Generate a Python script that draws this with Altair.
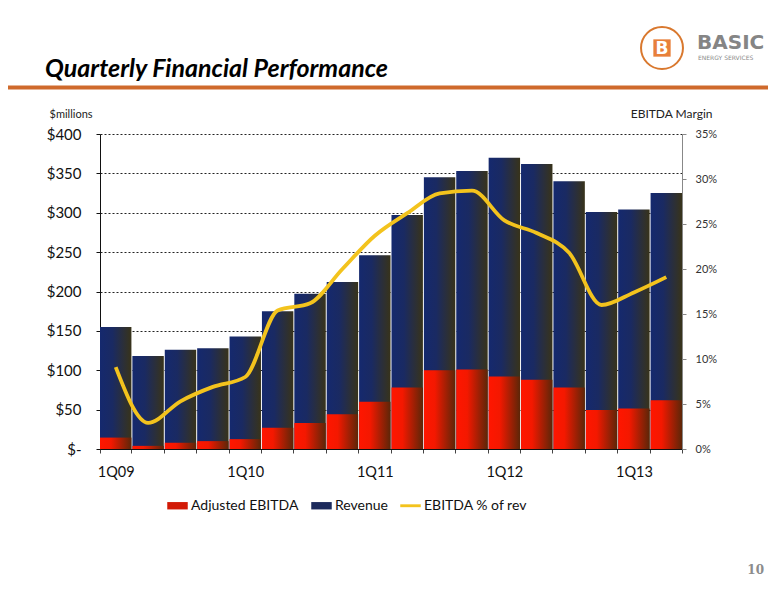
import altair as alt
import pandas as pd

quarters = ["1Q09", "2Q09", "3Q09", "4Q09", "1Q10", "2Q10", "3Q10", "4Q10",
            "1Q11", "2Q11", "3Q11", "4Q11", "1Q12", "2Q12", "3Q12", "4Q12",
            "1Q13", "2Q13"]
revenue = [155, 118, 126, 128, 143, 175, 197, 212, 246, 297, 345, 353, 370,
           362, 340, 301, 304, 325]
ebitda = [14.5, 4, 8, 10, 12.5, 27, 33, 44, 60, 78, 100, 101, 92, 88, 78,
          49.5, 51.5, 62]
margin_pct = [9.1, 2.9, 5.3, 6.9, 8.0, 15.4, 16.2, 20.0, 23.7, 26.2, 28.4,
              28.7, 25.4, 24.0, 21.8, 16.0, 17.4, 19.1]
series_names = ["Adjusted EBITDA", "Revenue", "EBITDA % of rev"]
series_colors = ["#d21a06", "#1c2a5c", "#f3c31d"]
left_ticks = [0, 50, 100, 150, 200, 250, 300, 350, 400]
right_ticks = [0, 0.05, 0.10, 0.15, 0.20, 0.25, 0.30, 0.35]

df = pd.DataFrame({
    "q": quarters,
    "revenue": revenue,
    "ebitda": ebitda,
    "margin": [m / 100 for m in margin_pct],
})
legend_df = pd.DataFrame({"series": series_names})

FONT = "Lato"
W, H = 582, 315

rev_grad = alt.Gradient(
    gradient="linear", x1=0, x2=1, y1=0, y2=0,
    stops=[alt.GradientStop(color="#15296e", offset=0),
           alt.GradientStop(color="#1a2a62", offset=0.4),
           alt.GradientStop(color="#38331a", offset=1)])
ebitda_grad = alt.Gradient(
    gradient="linear", x1=0, x2=1, y1=0, y2=0,
    stops=[alt.GradientStop(color="#ff1600", offset=0),
           alt.GradientStop(color="#f41800", offset=0.35),
           alt.GradientStop(color="#5c2608", offset=1)])

x_enc = alt.X(
    "q:N", sort=None, title=None,
    scale=alt.Scale(paddingInner=0.03, paddingOuter=0),
    axis=alt.Axis(
        tickBand="extent", labelAngle=0, labelFont=FONT, labelFontSize=14.5,
        labelColor="#111", labelPadding=12, tickSize=4, tickColor="#444",
        domainColor="#111", grid=False, labelOverlap=False,
        labelExpr="indexof(datum.label, '1Q') == 0 ? datum.label : ''"))

left_scale = alt.Scale(domain=[0, 400], nice=False, zero=True)
left_axis = alt.Axis(
    values=left_ticks, tickCount=20, labelOverlap=False,
    labelFont=FONT, labelFontSize=15, labelColor="#111",
    labelPadding=15, tickSize=4, tickColor="#111", domainColor="#111",
    gridColor="#222", gridDash=[2, 2], gridWidth=1,
    labelExpr="datum.value == 0 ? '$-\u2007' : '$' + datum.value",
    titleAngle=0, titleAlign="left", titleBaseline="middle",
    titleX=-51, titleY=-20, titleFont=FONT, titleFontSize=11,
    titleFontWeight="normal", titleColor="#222")

base = alt.Chart(df)

rev_bars = base.mark_bar(fill=rev_grad).encode(
    x=x_enc,
    y=alt.Y("revenue:Q", title="$millions", scale=left_scale, axis=left_axis))
ebitda_bars = base.mark_bar(fill=ebitda_grad).encode(
    x=x_enc,
    y=alt.Y("ebitda:Q", title="$millions", scale=left_scale, axis=left_axis))

legend_layer = alt.Chart(legend_df).mark_point(filled=True, opacity=1).encode(
    x=alt.value(-5000), y=alt.value(-5000),
    color=alt.Color("series:N", sort=series_names, title=None,
                    scale=alt.Scale(domain=series_names, range=series_colors),
                    legend=alt.Legend(
                        orient="none", legendX=67, legendY=361,
                        direction="horizontal", symbolOpacity=1,
                        symbolSize=420, labelFont=FONT, labelFontSize=14,
                        labelColor="#111", columnPadding=12, labelOffset=3,
                        symbolStrokeWidth=0)),
    shape=alt.Shape("series:N", sort=series_names, title=None,
                    scale=alt.Scale(domain=series_names,
                                    range=["M-1,-0.36H1V0.36H-1Z",
                                           "M-1,-0.36H1V0.36H-1Z",
                                           "M-1,-0.14H1V0.14H-1Z"])))

one = alt.Data(values=[{}])
title_txt = alt.Chart(one).mark_text(
    text="Quarterly Financial Performance", font=FONT, fontSize=25,
    fontWeight="bold", fontStyle="italic", color="#000", align="left",
    baseline="alphabetic").encode(x=alt.value(-55), y=alt.value(-57))
orange_rule = alt.Chart(one).mark_rule(color="#cf6a2c", strokeWidth=4).encode(
    x=alt.value(-92), x2=alt.value(668), y=alt.value(-46.5))
logo_ring = alt.Chart(one).mark_point(
    shape="circle", size=1760, stroke="#d9782e", strokeWidth=2,
    filled=False, opacity=1).encode(x=alt.value(562), y=alt.value(-86))
logo_box = alt.Chart(one).mark_point(
    shape="square", size=300, fill="#e8803a", filled=True, strokeWidth=0,
    opacity=1).encode(x=alt.value(562), y=alt.value(-86))
logo_b = alt.Chart(one).mark_text(
    text="B", font="DejaVu Sans", fontSize=17, fontWeight="bold",
    color="#ffffff", align="center", baseline="middle").encode(
    x=alt.value(562), y=alt.value(-85))
logo_basic = alt.Chart(one).mark_text(
    text="BASIC", font="DejaVu Sans", fontSize=20, fontWeight="bold",
    color="#858585", align="left", baseline="middle").encode(
    x=alt.value(597), y=alt.value(-91))
logo_sub = alt.Chart(one).mark_text(
    text="ENERGY  SERVICES", font="DejaVu Sans", fontSize=6,
    color="#8a8a8a", align="left", baseline="middle").encode(
    x=alt.value(598), y=alt.value(-76))
page_num = alt.Chart(one).mark_text(
    text="10", font="DejaVu Serif", fontSize=12, fontWeight="bold",
    color="#8c8c8c", align="right", baseline="middle").encode(
    x=alt.value(664), y=alt.value(436))

left = alt.layer(rev_bars, ebitda_bars, legend_layer, title_txt, orange_rule,
                 logo_ring, logo_box, logo_b, logo_basic, logo_sub, page_num)

line = base.mark_line(color="#f3c31d", strokeWidth=3.8,
                      interpolate="monotone").encode(
    x=x_enc,
    y=alt.Y("margin:Q", title="EBITDA Margin",
            scale=alt.Scale(domain=[0, 0.35], nice=False),
            axis=alt.Axis(
                orient="right", values=right_ticks, tickCount=20,
                format=".0%", labelOverlap=False,
                labelFont=FONT, labelFontSize=11, labelColor="#333",
                labelPadding=9, tickSize=4, tickColor="#888",
                domainColor="#888", grid=False,
                titleAngle=0, titleAlign="right", titleBaseline="middle",
                titleX=30, titleY=-21, titleFont=FONT, titleFontSize=12,
                titleFontWeight="normal", titleColor="#222")))

chart = alt.layer(left, line).resolve_scale(y="independent").properties(
    width=W, height=H,
    autosize=alt.AutoSizeParams(type="none"),
    padding={"left": 92, "top": 126, "right": 86, "bottom": 143},
    background="white",
).configure_view(strokeWidth=0)

chart.save("out.html", embed_options={"renderer": "svg", "actions": False})
